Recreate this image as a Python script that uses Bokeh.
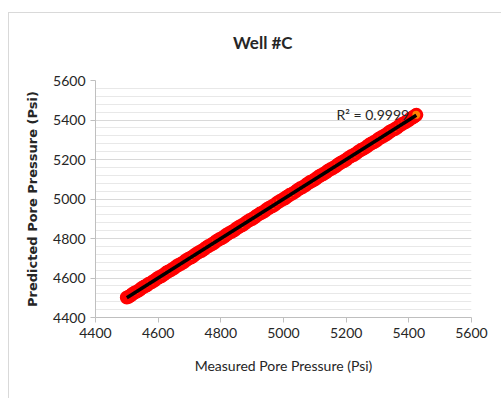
import numpy as np
from bokeh.plotting import figure
from bokeh.models import Range1d, FixedTicker, Label, Div
from bokeh.layouts import column
from bokeh.embed import file_html
from bokeh.resources import INLINE

title_text = "Well #C"
x_label = "Measured Pore Pressure (Psi)"
y_label = "Predicted Pore Pressure (Psi)"
r2_text = "R\u00b2 = 0.9999"
ticks = [4400, 4600, 4800, 5000, 5200, 5400, 5600]

measured = [4500, 4506, 4512, 4518, 4525, 4532, 4540, 4548, 4556, 4563, 4570, 4579,
            4588, 4596, 4603, 4610, 4618, 4625, 4632, 4641, 4650, 4658, 4665, 4673,
            4681, 4689, 4697, 4705, 4712, 4721, 4730, 4738, 4746, 4754, 4761, 4770,
            4778, 4786, 4795, 4802, 4810, 4818, 4826, 4835, 4843, 4851, 4860, 4868,
            4875, 4883, 4891, 4900, 4908, 4916, 4925, 4932, 4940, 4948, 4956, 4964,
            4972, 4981, 4990, 5000, 5005, 5012, 5020, 5028, 5037, 5045, 5053, 5061,
            5070, 5078, 5086, 5094, 5102, 5110, 5118, 5126, 5135, 5142, 5150, 5158,
            5167, 5175, 5184, 5192, 5200, 5207, 5215, 5224, 5232, 5240, 5248, 5256,
            5265, 5272, 5280, 5288, 5296, 5304, 5312, 5321, 5330, 5338, 5345, 5354,
            5362, 5371, 5380, 5389, 5398, 5405, 5412, 5416, 5420, 5424]
predicted = [4501, 4505, 4511, 4519, 4526, 4531, 4539, 4549, 4557, 4562, 4571, 4578,
             4587, 4597, 4604, 4609, 4617, 4626, 4633, 4640, 4649, 4659, 4666, 4672,
             4680, 4690, 4698, 4704, 4711, 4722, 4731, 4737, 4745, 4755, 4762, 4769,
             4777, 4787, 4796, 4801, 4809, 4819, 4827, 4834, 4842, 4852, 4861, 4867,
             4874, 4884, 4892, 4899, 4907, 4917, 4926, 4931, 4939, 4949, 4957, 4963,
             4971, 4982, 4991, 5000, 5004, 5013, 5021, 5027, 5036, 5046, 5054, 5060,
             5069, 5079, 5087, 5093, 5101, 5111, 5119, 5125, 5134, 5143, 5151, 5157,
             5166, 5176, 5185, 5191, 5199, 5208, 5216, 5223, 5231, 5241, 5249, 5255,
             5264, 5273, 5281, 5287, 5295, 5305, 5313, 5320, 5329, 5339, 5346, 5353,
             5361, 5372, 5381, 5388, 5397, 5406, 5413, 5417, 5421, 5426]

FONT = "Lato"

title_div = Div(
    text=('<div style="font-family:Lato;font-weight:bold;font-size:17px;color:#262626;'
          'text-align:left;line-height:60px;padding-left:224px;white-space:nowrap;">'
          + title_text + '</div>'),
    width=493, height=60, margin=0)

p = figure(width=493, height=326, output_backend="svg", toolbar_location=None,
           title=None,
           x_range=Range1d(4400, 5600), y_range=Range1d(4400, 5600),
           min_border_left=86, min_border_right=31, min_border_top=7, min_border_bottom=82)
p.margin = 0
p.outline_line_color = None

for ax in (p.xaxis, p.yaxis):
    ax.ticker = FixedTicker(ticks=ticks, minor_ticks=list(range(4400, 5601, 40)))
    ax.axis_line_color = "#bfbfbf"
    ax.major_tick_line_color = "#bfbfbf"
    ax.major_tick_out = 5
    ax.major_tick_in = 0
    ax.minor_tick_line_color = None
    ax.major_label_text_font = FONT
    ax.major_label_text_font_size = "14px"
    ax.major_label_text_color = "#262626"

p.xaxis.axis_label = x_label
p.xaxis.axis_label_text_font = FONT
p.xaxis.axis_label_text_font_size = "14px"
p.xaxis.axis_label_text_font_style = "normal"
p.xaxis.axis_label_text_color = "#262626"
p.xaxis.axis_label_standoff = 16

p.yaxis.axis_label = y_label
p.yaxis.axis_label_text_font = "DejaVu Sans"
p.yaxis.axis_label_text_font_size = "13px"
p.yaxis.axis_label_text_font_style = "bold"
p.yaxis.axis_label_text_color = "#262626"
p.yaxis.axis_label_standoff = 10

p.xgrid.grid_line_color = None
p.ygrid.grid_line_color = "#d9d9d9"
p.ygrid.minor_grid_line_color = "#e8e8e8"

p.scatter(measured, predicted, size=11, marker="circle", fill_color="#ff8000",
          line_color="#ff0000", line_width=3)

coef = np.polyfit(measured, predicted, 1)
xl = np.array([min(measured), max(measured)])
p.line(xl, np.polyval(coef, xl), line_color="black", line_width=3.5)

p.add_layout(Label(x=5285, y=5428, text=r2_text, text_font=FONT, text_font_size="14px",
                   text_color="#262626", text_align="center", text_baseline="middle"))

layout = column(title_div, p, spacing=0)
layout.margin = (12, 0, 0, 8)
layout.styles = {"border-left": "1px solid #d9d9d9", "border-top": "1px solid #d9d9d9"}

open("out.html", "w").write(file_html(layout, INLINE))
